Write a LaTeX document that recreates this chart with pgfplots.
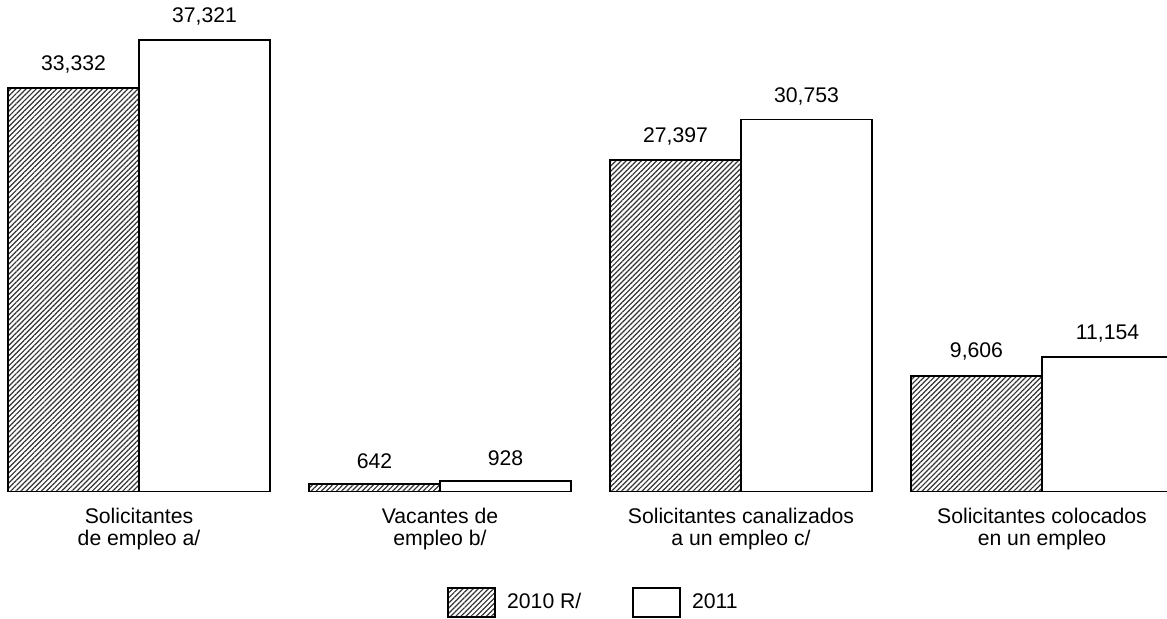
\documentclass[border=0pt]{standalone}
\usepackage{fontspec}
\setmainfont{Liberation Sans}
\usepackage{pgfplots}
\pgfplotsset{compat=1.18}
\usetikzlibrary{patterns.meta}

\newcommand{\chartfont}{\fontsize{10.6pt}{10.8pt}\selectfont}

\begin{document}
\begin{tikzpicture}[font=\chartfont]
\path[use as bounding box] (0,-63.5pt) rectangle (583.5pt,246pt);
\begin{axis}[
    at={(0,0)}, anchor=south west,
    scale only axis,
    width=583.5pt, height=246pt,
    ybar=0pt, bar width=65.5pt,
    xmin=-0.4618, xmax=3.4153,
    ymin=0, ymax=40628,
    axis line style={draw=none},
    tick style={draw=none},
    major tick length=0pt,
    ytick=\empty,
    xtick={0,1,2,3},
    xticklabels={{Solicitantes\\de empleo a/},{Vacantes de\\empleo b/},{Solicitantes canalizados\\a un empleo c/},{Solicitantes colocados\\en un empleo}},
    xticklabel style={align=center, font=\chartfont, inner sep=0pt, anchor=north, yshift=-8pt},
    /pgf/number format/assume math mode=true,
    nodes near coords={\pgfmathprintnumber[fixed, precision=0, 1000 sep={,}]{\pgfplotspointmeta}},
    every node near coord/.append style={font=\chartfont, inner sep=0pt, anchor=south, yshift=7pt, black},
    legend image code/.code={\draw[#1] (0pt,-7.25pt) rectangle (23.5pt,7.25pt);},
    legend columns=2,
    legend style={draw=none, fill=none, inner sep=0pt, outer sep=0pt, font=\chartfont,
        at={(0.383,-0.2246)}, anchor=west,
        nodes={inner sep=0pt},
        /tikz/column 2/.style={column sep=25.5pt},
        cells={anchor=west}},
    legend cell align=left,
]
\addplot[draw=black, line width=1.1pt, pattern={Lines[angle=45, distance=1.8pt, line width=0.6pt]}, pattern color=black!80]
    coordinates {(0,33332) (1,642) (2,27397) (3,9606)};
\addlegendentry{\hspace{5.5pt}2010 R/}
\addplot[draw=black, line width=0.8pt, fill=white]
    coordinates {(0,37321) (1,928) (2,30753) (3,11154)};
\addlegendentry{\hspace{5.5pt}2011}
\end{axis}
\end{tikzpicture}
\end{document}
